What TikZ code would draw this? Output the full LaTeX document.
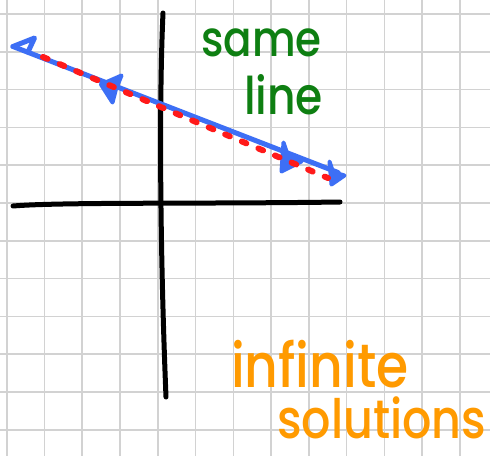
\documentclass[tikz,border=0pt]{standalone}
\usepackage{fontspec}
\setmainfont{Poppins}[BoldFont=Poppins Medium]
\definecolor{gridgray}{HTML}{D2D2D2}
\definecolor{lineblue}{HTML}{3D6FF5}
\definecolor{dashred}{HTML}{FF1A1A}
\definecolor{textgreen}{HTML}{0E7F12}
\definecolor{textorange}{HTML}{FF9A00}
\tikzset{
  gridline/.style={draw=gridgray, line width=1.6pt},
  axisline/.style={draw=black, line width=5pt, line cap=round},
  blueline/.style={draw=lineblue, line width=5pt, line cap=round, line join=round},
  bluehead/.style={draw=lineblue, fill=lineblue, line width=4pt, line join=round},
  reddash/.style={draw=dashred, line width=6pt, line cap=round, dash pattern=on 5pt off 13pt},
  handtext/.style={inner sep=0pt, anchor=base west, yscale=1.18},
}
\begin{document}
\begin{tikzpicture}[x=1pt,y=-1pt]
\useasboundingbox (0,0) rectangle (490,456);
\fill[white] (0,0) rectangle (490,456);
\foreach \i in {0,...,12} \draw[gridline] ({6.7+37.77*\i},0) -- ({6.7+37.77*\i},456);
\foreach \j in {0,...,11} \draw[gridline] (0,{14+37.8*\j}) -- (490,{14+37.8*\j});
% axes
\draw[axisline] (163,13) .. controls (159,100) and (160,250) .. (166,397);
\draw[axisline] (13,206) .. controls (60,202) and (200,204) .. (340,202);
% blue line with arrows
\coordinate (bl) at (13,46.5);
\coordinate (br) at (338,172.5);
\draw[blueline] (bl) -- (br);
\draw[blueline] (28,52) -- (34.5,38) -- (bl);
\path[bluehead] (101,84.5) -- (121.5,75.5) -- (116,89) -- (112.5,102.5) -- cycle;
\path[bluehead] (283.5,142.5) -- (288,156) -- (301.5,161.5) -- (281.5,171.5) -- cycle;
\path[bluehead] (329.5,161.5) -- (333,172) -- (344.5,175.5) -- (331.5,184.5) -- cycle;
% red dashed line
\coordinate (rl) at (43,57);
\coordinate (rr) at (328,178);
\draw[reddash] (rl) -- (rr);
% texts
\node[handtext, text=textgreen, font=\bfseries\fontsize{42}{42}\selectfont] (same) at (201,56) {same};
\node[handtext, text=textgreen, font=\bfseries\fontsize{44}{44}\selectfont] (line) at (244,114) {line};
\node[handtext, text=textorange, font=\bfseries\fontsize{52}{52}\selectfont] (infinite) at (231,387) {infinite};
\node[handtext, text=textorange, font=\bfseries\fontsize{46}{46}\selectfont] (solutions) at (277,438) {solutions};
\end{tikzpicture}
\end{document}
